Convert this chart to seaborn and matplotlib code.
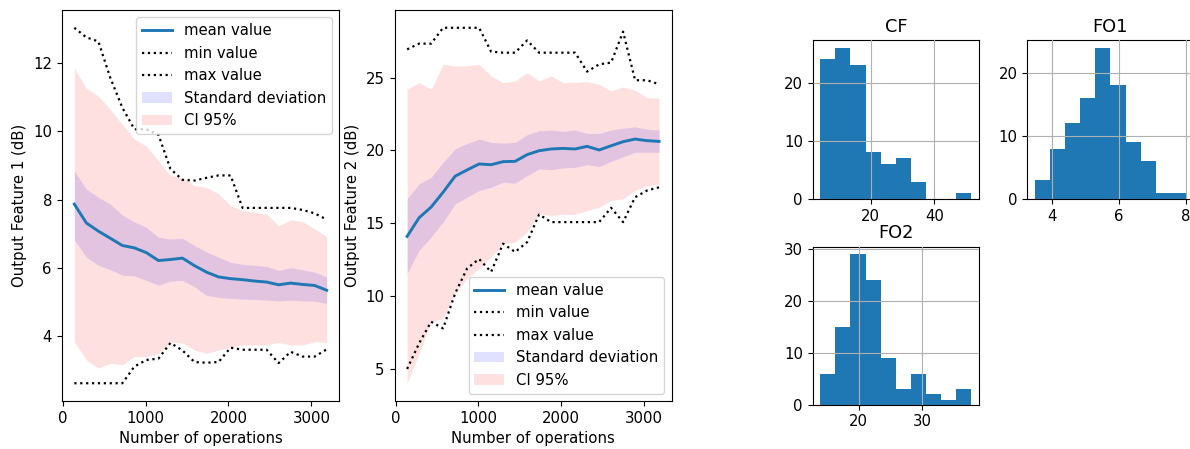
import numpy as np
import matplotlib
matplotlib.use("Agg")
import matplotlib.pyplot as plt
import seaborn as sns

# ---------------- data ----------------
operations = [140, 285, 430, 575, 720, 865, 1010, 1155, 1300, 1445, 1590,
              1735, 1880, 2025, 2170, 2315, 2460, 2605, 2750, 2895, 3040, 3185]

# Output Feature 1
f1_mean = [7.87, 7.32, 7.08, 6.87, 6.66, 6.59, 6.45, 6.22, 6.25, 6.29, 6.07,
           5.88, 5.74, 5.69, 5.66, 5.62, 5.59, 5.51, 5.56, 5.52, 5.49, 5.35]
f1_min = [2.63, 2.63, 2.63, 2.63, 2.63, 3.12, 3.31, 3.35, 3.81, 3.59, 3.25,
          3.23, 3.25, 3.67, 3.61, 3.61, 3.61, 3.22, 3.55, 3.41, 3.41, 3.62]
f1_max = [13.03, 12.75, 12.63, 11.56, 10.69, 10.06, 10.06, 9.9, 8.9, 8.58, 8.56,
          8.64, 8.71, 8.71, 7.76, 7.76, 7.76, 7.76, 7.76, 7.7, 7.6, 7.42]
f1_sd_hi = [8.84, 8.31, 8.07, 7.87, 7.55, 7.35, 7.19, 6.90, 6.85, 6.87, 6.66,
            6.47, 6.32, 6.17, 6.11, 6.08, 6.05, 5.93, 6.01, 5.95, 5.88, 5.74]
f1_sd_lo = [6.83, 6.32, 6.08, 5.95, 5.79, 5.77, 5.64, 5.50, 5.62, 5.64, 5.45,
            5.20, 5.14, 5.11, 5.09, 5.08, 5.06, 5.04, 5.06, 5.04, 5.03, 4.96]
f1_ci_hi = [11.85, 11.27, 11.03, 10.64, 10.20, 9.77, 9.57, 9.14, 8.70, 8.65, 8.41,
            8.36, 8.17, 7.83, 7.68, 7.63, 7.58, 7.24, 7.41, 7.36, 7.15, 6.92]
f1_ci_lo = [3.84, 3.31, 3.07, 3.21, 3.17, 3.41, 3.41, 3.50, 3.84, 3.80, 3.60,
            3.50, 3.60, 3.68, 3.75, 3.75, 3.75, 3.82, 3.75, 3.75, 3.84, 3.82]

# Output Feature 2
f2_mean = [14.10, 15.38, 16.11, 17.13, 18.23, 18.66, 19.07, 19.02, 19.23, 19.25, 19.71,
           19.98, 20.10, 20.14, 20.10, 20.28, 20.03, 20.32, 20.60, 20.78, 20.67, 20.62]
f2_min = [5.0, 6.76, 8.24, 7.78, 10.18, 11.9, 12.55, 11.66, 13.6, 13.03, 13.7,
          15.6, 15.08, 15.08, 15.08, 15.08, 15.08, 16.06, 15.08, 16.79, 17.25, 17.47]
f2_max = [26.94, 27.33, 27.33, 28.42, 28.42, 28.42, 28.42, 26.78, 26.71, 26.71, 27.55,
          26.71, 26.71, 26.71, 26.71, 25.41, 25.91, 26.03, 28.15, 24.82, 24.82, 24.54]
f2_sd_hi = [16.68, 17.70, 18.16, 19.18, 20.10, 20.48, 20.78, 20.55, 20.51, 20.55, 21.08,
            21.35, 21.40, 21.31, 21.40, 21.17, 21.17, 21.40, 21.53, 21.62, 21.46, 21.40]
f2_sd_lo = [11.55, 13.14, 14.05, 15.08, 16.33, 16.79, 17.25, 17.47, 17.82, 17.75, 18.27,
            18.73, 18.68, 18.80, 18.84, 19.02, 18.89, 19.25, 19.57, 19.87, 19.87, 19.87]
f2_ci_hi = [24.20, 24.66, 24.20, 25.91, 25.80, 25.80, 25.91, 25.11, 24.66, 24.77, 25.34,
            24.77, 25.11, 24.66, 24.66, 24.73, 24.54, 24.09, 24.36, 24.13, 23.63, 23.59]
f2_ci_lo = [4.02, 6.07, 8.24, 8.47, 10.18, 11.20, 11.89, 12.69, 13.60, 13.71, 14.40,
            15.65, 15.54, 15.60, 15.60, 15.88, 16.10, 16.56, 16.68, 17.25, 17.59, 17.66]

# Histograms (bin edges and counts)
cf_edges = list(np.linspace(4.2, 51.6, 11))
cf_counts = [24, 26, 23, 8, 6, 7, 3, 0, 0, 1]
fo1_edges = list(np.linspace(3.5, 8.0, 11))
fo1_counts = [3, 8, 12, 16, 24, 18, 9, 6, 1, 1]
fo2_edges = list(np.linspace(13.9, 37.8, 11))
fo2_counts = [6, 15, 29, 24, 9, 3, 6, 2, 1, 3]

# ---------------- figure ----------------
W, H = 1190, 449
FS = 10.7
TFS = 12.8
fig = plt.figure(figsize=(W / 100, H / 100), dpi=100)


def rect(l, t, r, b):
    return [l / W, 1 - b / H, (r - l) / W, (b - t) / H]


blue = "#1f77b4"


def line_panel(ax, mean, mn, mx, sdh, sdl, cih, cil, ylabel, legloc):
    sns.lineplot(x=operations, y=mean, ax=ax, color=blue, linewidth=2.1,
                 label="mean value")
    sns.lineplot(x=operations, y=mn, ax=ax, color="black", linestyle=":",
                 linewidth=1.6, label="min value")
    sns.lineplot(x=operations, y=mx, ax=ax, color="black", linestyle=":",
                 linewidth=1.6, label="max value")
    ax.fill_between(operations, sdl, sdh, color="blue", alpha=0.12,
                    linewidth=0, label="Standard deviation")
    ax.fill_between(operations, cil, cih, color="red", alpha=0.12,
                    linewidth=0, label="CI 95%")
    ax.set_xlabel("Number of operations", fontsize=FS)
    ax.set_ylabel(ylabel, fontsize=FS)
    ax.set_xticks([0, 1000, 2000, 3000])
    ax.tick_params(labelsize=FS)
    ax.legend(loc=legloc, fontsize=FS)


ax1 = fig.add_axes(rect(61.7, 10, 339.3, 401))
line_panel(ax1, f1_mean, f1_min, f1_max, f1_sd_hi, f1_sd_lo, f1_ci_hi, f1_ci_lo,
           "Output Feature 1 (dB)", "upper right")
ax1.set_yticks([4, 6, 8, 10, 12])

ax2 = fig.add_axes(rect(394.5, 10, 671.7, 401))
line_panel(ax2, f2_mean, f2_min, f2_max, f2_sd_hi, f2_sd_lo, f2_ci_hi, f2_ci_lo,
           "Output Feature 2 (dB)", "lower right")
ax2.set_yticks([5, 10, 15, 20, 25])


def hist_panel(ax, edges, counts, title, xticks, yticks):
    centers = [(edges[i] + edges[i + 1]) / 2 for i in range(len(counts))]
    sns.histplot(x=centers, weights=counts, bins=edges, ax=ax, color=blue,
                 alpha=1, linewidth=0, edgecolor=None)
    ax.set_title(title, fontsize=TFS)
    ax.set_xlabel("")
    ax.set_ylabel("")
    ax.set_xticks(xticks)
    ax.set_yticks(yticks)
    ax.tick_params(labelsize=FS)
    ax.grid(True, color="#b0b0b0", linewidth=0.8)
    ax.set_axisbelow(False)


axcf = fig.add_axes(rect(812.7, 40, 979, 199))
hist_panel(axcf, cf_edges, cf_counts, "CF", [20, 40], [0, 10, 20])
axfo1 = fig.add_axes(rect(1027.3, 40, 1193.6, 199))
hist_panel(axfo1, fo1_edges, fo1_counts, "FO1", [4, 6, 8], [0, 10, 20])
axfo2 = fig.add_axes(rect(812.7, 246.7, 979, 404.7))
hist_panel(axfo2, fo2_edges, fo2_counts, "FO2", [20, 30], [0, 10, 20, 30])

fig.savefig("out.png", dpi=100)
